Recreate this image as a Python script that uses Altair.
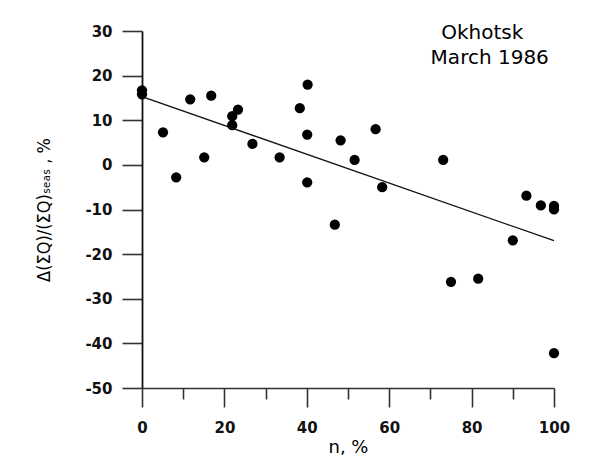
import altair as alt
import pandas as pd

# ---- data ----
n_pct = [0, 0, 5.1, 8.3, 11.7, 15.1, 16.8, 21.9, 21.9, 23.3, 26.8, 33.4, 38.3,
         40.2, 40.1, 40.1, 46.8, 48.2, 51.6, 56.7, 58.3, 73.1, 75.0, 81.6,
         90.0, 93.3, 96.8, 100, 100, 100]
dq_pct = [16.7, 15.8, 7.3, -2.8, 14.7, 1.7, 15.5, 10.9, 8.9, 12.4, 4.7, 1.7, 12.7,
          18.0, 6.8, -3.9, -13.4, 5.5, 1.1, 8.0, -5.0, 1.1, -26.2, -25.5,
          -16.9, -6.9, -9.1, -9.2, -10.0, -42.2]

fit_n = [0, 100]
fit_dq = [15.3, -17.0]

x_major_ticks = [0, 20, 40, 60, 80, 100]
x_minor_ticks = [10, 30, 50, 70, 90]
y_ticks = [-50, -40, -30, -20, -10, 0, 10, 20, 30]

anno_text = ["Okhotsk", "March 1986"]
anno_x = [82.6, 84.4]
anno_y = [29.5, 24.0]

x_title = "n, %"
y_title = "Δ(ΣQ)/(ΣQ)ₛₑₐₛ , %"

# ---- tables ----
pts = pd.DataFrame({"n": n_pct, "dq": dq_pct})
fit = pd.DataFrame({"n": fit_n, "dq": fit_dq})
minor = pd.DataFrame({"n": x_minor_ticks})
anno = pd.DataFrame({"label": anno_text, "n": anno_x, "dq": anno_y})

FONT = "DejaVu Sans"
NARROW = "'DejaVu Sans Condensed', 'Liberation Sans Narrow', 'DejaVu Sans'"
W, H = 412, 357
HYPHEN = "replace(datum.label, '\u2212', '-')"

x_scale = alt.Scale(domain=[0, 100], nice=False, zero=False)
y_scale = alt.Scale(domain=[-50, 30], nice=False, zero=False)

x_axis = alt.Axis(
    values=x_major_ticks, orient="bottom", tickSize=19, tickWidth=1.6,
    tickColor="#333", domainColor="#333", domainWidth=1.6,
    labelFont=FONT, labelFontSize=15, labelFontWeight="bold", labelColor="#111",
    labelPadding=13, labelFlush=False, grid=False,
    title=x_title, titleFont=FONT, titleFontSize=18, titleFontWeight="normal",
    titleColor="#000", titleX=W / 2, titleY=59, titleAlign="center",
    titleBaseline="middle",
)
y_axis = alt.Axis(
    values=y_ticks, orient="left", tickSize=20, tickWidth=1.6,
    tickColor="#333", domainColor="#111", domainWidth=1.8,
    labelFont=FONT, labelFontSize=15, labelFontWeight="bold", labelColor="#111",
    labelPadding=10, labelFlush=False, grid=False, labelExpr=HYPHEN,
    title=y_title, titleFont=NARROW, titleFontSize=18, titleFontWeight="normal",
    titleColor="#000", titleX=-98, titleY=H / 2, titleAngle=270,
    titleAlign="center", titleBaseline="middle",
)
minor_axis = alt.Axis(
    values=x_minor_ticks, orient="bottom", tickSize=11, tickWidth=1.6,
    tickColor="#333", domain=False, labels=False, grid=False, title="",
)

points = alt.Chart(pts).mark_circle(size=105, color="#000", opacity=1).encode(
    x=alt.X("n:Q", scale=x_scale, axis=x_axis),
    y=alt.Y("dq:Q", scale=y_scale, axis=y_axis),
)

line = alt.Chart(fit).mark_line(color="#111", strokeWidth=1.3).encode(
    x=alt.X("n:Q", scale=x_scale, axis=None),
    y=alt.Y("dq:Q", scale=y_scale, axis=y_axis),
)

minor_ticks = alt.Chart(minor).mark_point(opacity=0).encode(
    x=alt.X("n:Q", scale=x_scale, axis=minor_axis),
)

text = alt.Chart(anno).mark_text(
    font=FONT, fontSize=20, color="#000", align="center", baseline="middle"
).encode(
    x=alt.X("n:Q", scale=x_scale, axis=None),
    y=alt.Y("dq:Q", scale=y_scale, axis=y_axis),
    text="label:N",
)

chart = alt.layer(points, line, text, minor_ticks).resolve_axis(
    x="independent"
).properties(
    width=W, height=H,
    autosize=alt.AutoSizeParams(type="none"),
    padding={"left": 134, "top": 23, "right": 50, "bottom": 70},
    background="white",
).configure_view(stroke=None)

chart.save("out.html", embed_options={"renderer": "svg", "actions": False})
